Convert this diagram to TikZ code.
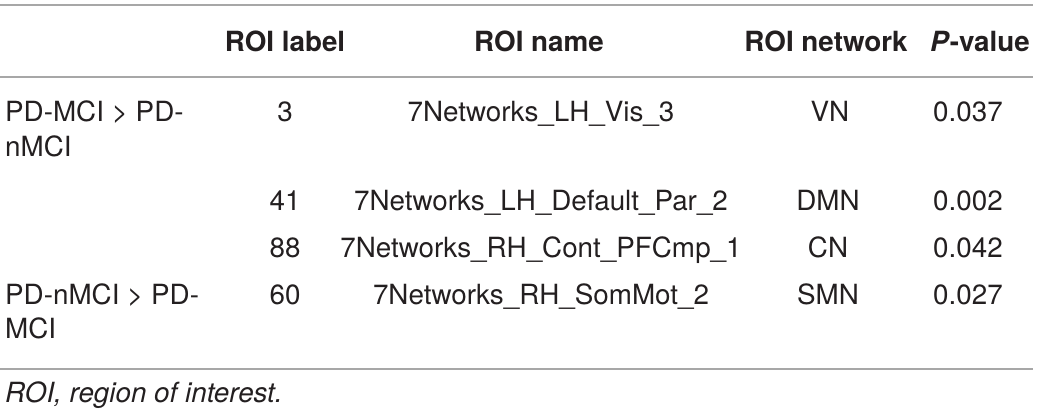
\documentclass[tikz,border=0pt]{standalone}
\usepackage{fontspec}
\setmainfont{TeX Gyre Heros}
\definecolor{txt}{HTML}{231F20}
\definecolor{rule}{HTML}{A7A7A7}
\begin{document}
\begin{tikzpicture}[x=1pt,y=-1pt,
  cell/.style={inner sep=0pt,anchor=base,text=txt,font=\fontsize{27.8}{34}\selectfont},
  lcell/.style={cell,anchor=base west},
  head/.style={cell,font=\fontsize{27.8}{34}\selectfont\bfseries},
  hrule/.style={draw=rule,line width=1.8pt}]
\useasboundingbox (0,0) rectangle (1039,417);
% rules
\coordinate (t0) at (0,5);    \coordinate (t1) at (1033,5);
\coordinate (m0) at (0,77);   \coordinate (m1) at (1033,77);
\coordinate (b0) at (0,369);  \coordinate (b1) at (1033,369);
\draw[hrule] (t0) -- (t1);
\draw[hrule] (m0) -- (m1);
\draw[hrule] (b0) -- (b1);
% header
\node[head] (h2) at (285,52) {ROI label};
\node[head] (h3) at (539,52) {ROI name};
\node[head] (h4) at (826,52) {ROI network};
\node[head] (h5) at (980,52) {\textit{P}-value};
% row 1
\node[lcell] (r1a) at (5,122) {PD-MCI > PD-};
\node[lcell] (r1b) at (5,157) {nMCI};
\node[cell] (r1c) at (285,122) {3};
\node[cell] (r1d) at (541,122) {7Networks\_LH\_Vis\_3};
\node[cell] (r1e) at (830,122) {VN};
\node[cell] (r1f) at (968,122) {0.037};
% row 2
\node[cell] (r2c) at (285,210) {41};
\node[cell] (r2d) at (541,210) {7Networks\_LH\_Default\_Par\_2};
\node[cell] (r2e) at (828,210) {DMN};
\node[cell] (r2f) at (968,210) {0.002};
% row 3
\node[cell] (r3c) at (285,257) {88};
\node[cell] (r3d) at (541,257) {7Networks\_RH\_Cont\_PFCmp\_1};
\node[cell] (r3e) at (828,257) {CN};
\node[cell] (r3f) at (968,257) {0.042};
% row 4
\node[lcell] (r4a) at (5,304) {PD-nMCI > PD-};
\node[lcell] (r4b) at (5,338) {MCI};
\node[cell] (r4c) at (285,304) {60};
\node[cell] (r4d) at (541,304) {7Networks\_RH\_SomMot\_2};
\node[cell] (r4e) at (828,304) {SMN};
\node[cell] (r4f) at (968,304) {0.027};
% footnote
\node[lcell,font=\fontsize{27.8}{34}\selectfont\itshape] (fn) at (5,402) {ROI, region of interest.};
\end{tikzpicture}
\end{document}
